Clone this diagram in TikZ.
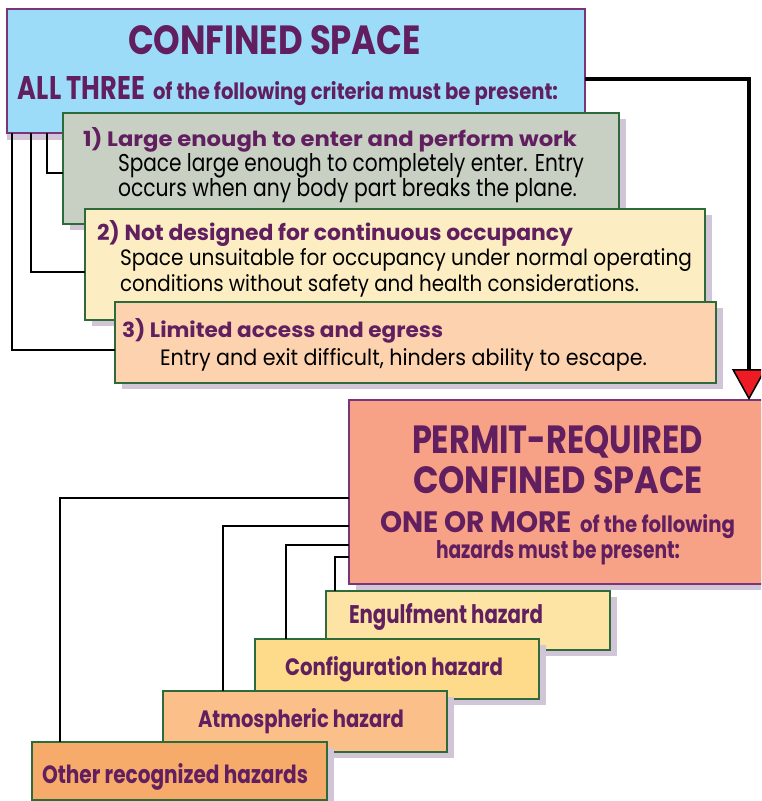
\documentclass[tikz,border=0pt]{standalone}
\usepackage{fontspec}
\setmainfont{Poppins}
\usepackage{graphicx}
\usetikzlibrary{arrows.meta,shadows}
\definecolor{pur}{HTML}{621F60}
\definecolor{bpur}{HTML}{7A3478}
\definecolor{bgreen}{HTML}{2D6B3A}
\definecolor{shad}{HTML}{D3C5D8}
\definecolor{cblue}{HTML}{9DDCF8}
\definecolor{cgray}{HTML}{C8CFC3}
\definecolor{cyel}{HTML}{FDEDC2}
\definecolor{cpeach}{HTML}{FCD3AE}
\definecolor{csalmon}{HTML}{F7A286}
\definecolor{ceng}{HTML}{FDE3A4}
\definecolor{ccfg}{HTML}{FDDB8A}
\definecolor{catm}{HTML}{FBBF89}
\definecolor{coth}{HTML}{F7AB6A}
\definecolor{ared}{HTML}{ED1C24}
\newcommand\fitt[3]{\resizebox{#1pt}{#2pt}{#3}}
\tikzset{
  bx/.style={draw=#1, line width=1.6pt, anchor=north west, inner sep=0pt, outer sep=0pt},
  shd/.style={drop shadow={shadow xshift=7pt, shadow yshift=-6pt, fill=shad, opacity=1}},
  shdb/.style={drop shadow={shadow xshift=0pt, shadow yshift=-7pt, fill=shad, opacity=1}},
  pbox/.style={bx=bpur},
  gbox/.style={bx=bgreen, shd},
  txt/.style={anchor=base west, inner sep=0pt, outer sep=0pt},
  head/.style={txt, text=pur, font=\bfseries},
  body/.style={txt, text=black},
  conn/.style={draw=black, line width=1.4pt},
  bigarrow/.style={draw=black, line width=4pt,
    -{Triangle[width=34pt, length=31pt, line width=1.5pt, fill=ared]}}
}
\begin{document}
\begin{tikzpicture}[x=1pt, y=-1pt]
\useasboundingbox (0,0) rectangle (761,801);
\clip (0,0) rectangle (761,801);
\fill[white] (0,0) rectangle (761,801);

% top box
\node[pbox, shdb, fill=cblue, minimum width=578pt, minimum height=124pt] (top) at (7,9) {};
\node[head] (t1) at (128,54) {\fitt{293}{29}{CONFINED SPACE}};
\node[head] (t2) at (18,99) {\fitt{127}{23}{ALL THREE}};
\node[head] (t3) at (153,99) {\fitt{405}{18}{of the following criteria must be present:}};

% criteria boxes
\node[gbox, fill=cgray, minimum width=556pt, minimum height=111pt] (b1) at (63,113) {};
\node[head] (h1) at (83,146) {\fitt{494}{19}{1) Large enough to enter and perform work}};
\node[body] (s1a) at (118,171) {\fitt{466}{18}{Space large enough to completely enter. Entry}};
\node[body] (s1b) at (118,196) {\fitt{459}{18}{occurs when any body part breaks the plane.}};

\node[gbox, fill=cyel, minimum width=620pt, minimum height=111pt] (b2) at (85,209) {};
\node[head] (h2) at (97,240) {\fitt{476}{20}{2) Not designed for continuous occupancy}};
\node[body] (s2a) at (120,265) {\fitt{572}{17}{Space unsuitable for occupancy under normal operating}};
\node[body] (s2b) at (120,291) {\fitt{519}{17}{conditions without safety and health considerations.}};

\node[gbox, fill=cpeach, minimum width=601pt, minimum height=81pt] (b3) at (115,302) {};
\node[head] (h3) at (122,337) {\fitt{321}{19}{3) Limited access and egress}};
\node[body] (s3a) at (160,365) {\fitt{487}{17}{Entry and exit difficult, hinders ability to escape.}};

% connectors from top box
\draw[conn] ([xshift=5pt]top.south west) |- ([yshift=-7.5pt]b3.west);
\draw[conn] ([xshift=24pt]top.south west) |- ([yshift=-7.5pt]b2.west);
\draw[conn] ([xshift=40pt]top.south west) |- ([yshift=-4.5pt]b1.west);

% permit box
\node[pbox, shd, fill=csalmon, minimum width=431pt, minimum height=184pt] (permit) at (349,400) {};
\node[head] (p1) at (412,453) {\fitt{291}{28}{PERMIT-REQUIRED}};
\node[head] (p2) at (413,493) {\fitt{290}{27}{CONFINED SPACE}};
\node[head] (p3) at (380,532) {\fitt{192}{21}{ONE OR MORE}};
\node[head] (p4) at (580,532) {\fitt{155}{18}{of the following}};
\node[head] (p5) at (436,558) {\fitt{244}{18}{hazards must be present:}};

% big arrow
\draw[bigarrow] ([yshift=-8pt]top.east) -| ([xshift=-31pt]permit.north east);

% hazard boxes
\node[gbox, fill=ceng, minimum width=284pt, minimum height=59pt] (engulf) at (326,591) {};
\node[head] (z1) at (349,623) {\fitt{194}{20}{Engulfment hazard}};
\node[gbox, fill=ccfg, minimum width=284pt, minimum height=60pt] (config) at (255,639) {};
\node[head] (z2) at (285,675) {\fitt{218}{19}{Configuration hazard}};
\node[gbox, fill=catm, minimum width=284pt, minimum height=61pt] (atmos) at (163,691) {};
\node[head] (z3) at (198,727) {\fitt{206}{19}{Atmospheric hazard}};
\node[gbox, fill=coth, minimum width=295pt, minimum height=58pt] (other) at (32,742) {};
\node[head] (z4) at (42,783) {\fitt{266}{20}{Other recognized hazards}};

% connectors from permit box
\draw[conn] ([yshift=-6pt]permit.west) -| ([xshift=28pt]other.north west);
\draw[conn] ([yshift=-34pt]permit.west) -| ([xshift=60pt]atmos.north west);
\draw[conn] ([yshift=-53pt]permit.west) -| ([xshift=31pt]config.north west);
\draw[conn] ([yshift=-65pt]permit.west) -| ([xshift=9pt]engulf.north west);
\end{tikzpicture}
\end{document}
